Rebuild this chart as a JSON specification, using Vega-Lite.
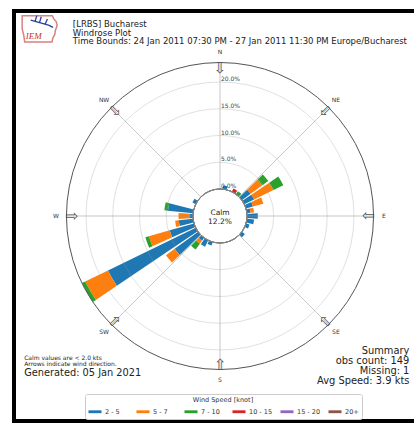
{
  "$schema": "https://vega.github.io/schema/vega-lite/v6.json",
  "width": 412,
  "height": 410,
  "autosize": {"type": "none"},
  "padding": {"left": 14, "top": 11, "right": -12, "bottom": 2},
  "background": "white",
  "config": {
    "view": {"stroke": "#000000", "strokeWidth": 4},
    "font": "DejaVu Sans"
  },
  "datasets": {
    "rose": [
      {"dir": 10, "speed": "2 - 5", "k": 1, "pct": 0.68},
      {"dir": 30, "speed": "10 - 15", "k": 4, "pct": 0.68},
      {"dir": 40, "speed": "7 - 10", "k": 3, "pct": 0.68},
      {"dir": 50, "speed": "2 - 5", "k": 1, "pct": 2.03},
      {"dir": 50, "speed": "5 - 7", "k": 2, "pct": 2.70},
      {"dir": 50, "speed": "7 - 10", "k": 3, "pct": 1.35},
      {"dir": 60, "speed": "2 - 5", "k": 1, "pct": 2.03},
      {"dir": 60, "speed": "5 - 7", "k": 2, "pct": 4.05},
      {"dir": 60, "speed": "7 - 10", "k": 3, "pct": 2.03},
      {"dir": 70, "speed": "2 - 5", "k": 1, "pct": 1.35},
      {"dir": 70, "speed": "5 - 7", "k": 2, "pct": 2.03},
      {"dir": 80, "speed": "2 - 5", "k": 1, "pct": 0.68},
      {"dir": 80, "speed": "5 - 7", "k": 2, "pct": 0.68},
      {"dir": 90, "speed": "2 - 5", "k": 1, "pct": 2.03},
      {"dir": 100, "speed": "2 - 5", "k": 1, "pct": 1.35},
      {"dir": 110, "speed": "2 - 5", "k": 1, "pct": 0.68},
      {"dir": 130, "speed": "2 - 5", "k": 1, "pct": 0.68},
      {"dir": 200, "speed": "2 - 5", "k": 1, "pct": 0.68},
      {"dir": 210, "speed": "2 - 5", "k": 1, "pct": 1.35},
      {"dir": 220, "speed": "2 - 5", "k": 1, "pct": 0.68},
      {"dir": 220, "speed": "5 - 7", "k": 2, "pct": 0.68},
      {"dir": 220, "speed": "7 - 10", "k": 3, "pct": 1.35},
      {"dir": 230, "speed": "2 - 5", "k": 1, "pct": 5.41},
      {"dir": 230, "speed": "5 - 7", "k": 2, "pct": 2.03},
      {"dir": 240, "speed": "2 - 5", "k": 1, "pct": 18.24},
      {"dir": 240, "speed": "5 - 7", "k": 2, "pct": 4.73},
      {"dir": 240, "speed": "7 - 10", "k": 3, "pct": 0.68},
      {"dir": 250, "speed": "2 - 5", "k": 1, "pct": 4.73},
      {"dir": 250, "speed": "5 - 7", "k": 2, "pct": 4.05},
      {"dir": 250, "speed": "7 - 10", "k": 3, "pct": 0.68},
      {"dir": 260, "speed": "2 - 5", "k": 1, "pct": 2.70},
      {"dir": 260, "speed": "5 - 7", "k": 2, "pct": 0.68},
      {"dir": 270, "speed": "2 - 5", "k": 1, "pct": 0.68},
      {"dir": 270, "speed": "5 - 7", "k": 2, "pct": 2.03},
      {"dir": 280, "speed": "2 - 5", "k": 1, "pct": 4.73},
      {"dir": 280, "speed": "7 - 10", "k": 3, "pct": 0.68},
      {"dir": 300, "speed": "2 - 5", "k": 1, "pct": 0.68}
    ],
    "compass": [
      {"dir": 0, "name": "N"}, {"dir": 45, "name": "NE"},
      {"dir": 90, "name": "E"}, {"dir": 135, "name": "SE"},
      {"dir": 180, "name": "S"}, {"dir": 225, "name": "SW"},
      {"dir": 270, "name": "W"}, {"dir": 315, "name": "NW"}
    ],
    "rings": [
      {"r": 0, "label": "0.0%"}, {"r": 5, "label": "5.0%"},
      {"r": 10, "label": "10.0%"}, {"r": 15, "label": "15.0%"},
      {"r": 20, "label": "20.0%"}
    ]
  },
  "layer": [
    {
      "data": {"name": "rose"},
      "transform": [
        {"stack": "pct", "groupby": ["dir"], "sort": [{"field": "k", "order": "ascending"}], "as": ["r0", "r1"]}
      ],
      "mark": {"type": "arc"},
      "encoding": {
        "theta": {
          "field": "dir", "type": "ordinal", "stack": null,
          "scale": {
            "type": "band",
            "domain": [0, 10, 20, 30, 40, 50, 60, 70, 80, 90, 100, 110, 120, 130, 140, 150, 160, 170, 180, 190, 200, 210, 220, 230, 240, 250, 260, 270, 280, 290, 300, 310, 320, 330, 340, 350],
            "range": [-0.0873, 6.1959],
            "paddingInner": 0.18,
            "paddingOuter": 0.09
          }
        },
        "radius": {"field": "r1", "type": "quantitative", "stack": null, "scale": {"type": "linear", "domain": [0, 23.65], "range": [27, 153.5]}},
        "radius2": {"field": "r0"},
        "color": {
          "field": "speed", "type": "nominal",
          "scale": {
            "domain": ["2 - 5", "5 - 7", "7 - 10", "10 - 15", "15 - 20", "20+"],
            "range": ["#1f77b4", "#ff7f0e", "#2ca02c", "#d62728", "#9467bd", "#8c564b"]
          },
          "legend": {
            "orient": "none", "legendX": 71, "legendY": 383,
            "direction": "horizontal", "columns": 6, "gridAlign": "all",
            "title": "Wind Speed [knot]", "titleAnchor": "middle",
            "titleFontSize": 6.5, "titleFontWeight": "normal", "titleColor": "#333333", "titlePadding": 1,
            "labelFontSize": 6.5, "labelColor": "#333333", "labelOffset": 3,
            "symbolType": "M-1,-0.22L1,-0.22L1,0.22L-1,0.22Z", "symbolSize": 170, "symbolStrokeWidth": 0,
            "columnPadding": 7, "padding": 3, "cornerRadius": 2,
            "strokeColor": "#cccccc", "fillColor": "#ffffff"
          }
        }
      }
    },
    {
      "data": {"name": "rings"},
      "mark": {"type": "arc", "theta": 0, "theta2": 6.2832, "fill": null, "stroke": "#999999", "strokeOpacity": 0.38, "strokeWidth": 0.8},
      "encoding": {
        "radius": {"field": "r", "type": "quantitative", "stack": null, "scale": {"type": "linear", "domain": [0, 23.65], "range": [27, 153.5]}}
      }
    },
    {
      "data": {"name": "compass"},
      "mark": {"type": "arc", "fill": null, "stroke": "#999999", "strokeOpacity": 0.38, "strokeWidth": 0.8},
      "encoding": {
        "theta": {"field": "dir", "type": "quantitative", "stack": null, "scale": {"domain": [0, 360], "range": [0, 6.2832]}},
        "theta2": {"field": "dir"},
        "radius": {"datum": 23.65, "type": "quantitative", "stack": null},
        "radius2": {"datum": 0}
      }
    },
    {
      "data": {"values": [{"edge": 23.65}]},
      "mark": {"type": "arc", "theta": 0, "theta2": 6.2832, "fill": null, "stroke": "#555555", "strokeWidth": 1},
      "encoding": {
        "radius": {"field": "edge", "type": "quantitative", "stack": null}
      }
    },
    {
      "data": {"values": [{"edge": 0}]},
      "mark": {"type": "arc", "theta": 0, "theta2": 6.2832, "fill": null, "stroke": "#888888", "strokeWidth": 0.8},
      "encoding": {
        "radius": {"field": "edge", "type": "quantitative", "stack": null}
      }
    },
    {
      "data": {"name": "rings"},
      "mark": {"type": "text", "theta": 0, "align": "left", "baseline": "middle", "dx": 1, "dy": -3, "fontSize": 6, "color": "#444444"},
      "encoding": {
        "radius": {"field": "r", "type": "quantitative", "stack": null},
        "text": {"field": "label"}
      }
    },
    {
      "data": {"name": "compass"},
      "mark": {"type": "text", "align": "center", "baseline": "middle", "fontSize": 15, "color": "#555555", "font": "DejaVu Sans"},
      "encoding": {
        "theta": {"field": "dir", "type": "quantitative", "stack": null, "scale": {"domain": [0, 360], "range": [0, 6.2832]}},
        "radius": {"datum": 22.7, "type": "quantitative", "stack": null},
        "angle": {"field": "dir", "type": "quantitative", "scale": null},
        "text": {"value": "⇩"}
      }
    },
    {
      "data": {"name": "compass"},
      "mark": {"type": "text", "align": "center", "baseline": "middle", "fontSize": 6, "color": "#333333"},
      "encoding": {
        "theta": {"field": "dir", "type": "quantitative", "stack": null, "scale": {"domain": [0, 360], "range": [0, 6.2832]}},
        "radius": {"datum": 25.6, "type": "quantitative", "stack": null},
        "text": {"field": "name"}
      }
    },
    {
      "data": {"values": [{"calm": 12.2}]},
      "mark": {"type": "text", "align": "center", "baseline": "middle", "fontSize": 7.5, "lineHeight": 8.5, "dy": -3, "color": "#222222"},
      "encoding": {"text": {"value": ["Calm", "12.2%"]}}
    },
    {
      "data": {"values": [{"note": "header"}]},
      "mark": {"type": "text", "align": "left", "baseline": "top", "fontSize": 8.5, "lineHeight": 8.5, "color": "#222222"},
      "encoding": {
        "x": {"datum": -27.5, "type": "quantitative", "scale": {"domain": [-38.5, 38.5], "nice": false, "zero": false}, "axis": null},
        "y": {"datum": 36.55, "type": "quantitative", "scale": {"domain": [-38.32, 38.32], "nice": false, "zero": false}, "axis": null},
        "text": {"value": ["[LRBS] Bucharest", "Windrose Plot", "Time Bounds: 24 Jan 2011 07:30 PM - 27 Jan 2011 11:30 PM Europe/Bucharest"]}
      }
    },
    {
      "data": {"values": [{"note": "state outline"}]},
      "mark": {"type": "point", "shape": "M -1 -0.75 L 0.72 -0.75 L 0.8 -0.58 L 0.95 -0.4 L 1 -0.18 L 0.9 0.08 L 0.86 0.34 L 0.76 0.5 L 0.7 0.75 L -0.86 0.75 L -0.9 0.42 L -1 0 Z", "size": 1225, "filled": true, "fill": "#ffffff", "stroke": "#d98080", "strokeWidth": 1.5, "opacity": 1},
      "encoding": {
        "x": {"datum": -33.7, "type": "quantitative"},
        "y": {"datum": 35.0, "type": "quantitative"}
      }
    },
    {
      "data": {"values": [{"note": "barb"}]},
      "mark": {"type": "point", "shape": "M -1 -0.2 L 0.6 0.25 M -0.6 -0.1 L -0.45 -0.6 M -0.2 0 L -0.05 -0.5 M 0.3 0.15 L 0.5 -0.3 M 0.6 0.25 L 1 0.45", "size": 500, "filled": false, "color": "#2a3f9a", "strokeWidth": 1.3, "opacity": 1},
      "encoding": {
        "x": {"datum": -33.3, "type": "quantitative"},
        "y": {"datum": 36.2, "type": "quantitative"}
      }
    },
    {
      "data": {"values": [{"note": "logo text"}]},
      "mark": {"type": "text", "align": "center", "baseline": "middle", "fontSize": 9, "font": "Liberation Serif", "fontStyle": "italic", "color": "#c83232"},
      "encoding": {
        "x": {"datum": -34.8, "type": "quantitative"},
        "y": {"datum": 33.6, "type": "quantitative"},
        "text": {"value": "IEM"}
      }
    },
    {
      "data": {"values": [{"note": "calm"}]},
      "mark": {"type": "text", "align": "left", "baseline": "top", "fontSize": 6, "lineHeight": 6.2, "color": "#222222"},
      "encoding": {
        "x": {"datum": -36.6, "type": "quantitative"},
        "y": {"datum": -26.0, "type": "quantitative"},
        "text": {"value": ["Calm values are < 2.0 kts", "Arrows indicate wind direction."]}
      }
    },
    {
      "data": {"values": [{"note": "generated"}]},
      "mark": {"type": "text", "align": "left", "baseline": "top", "fontSize": 9.8, "color": "#222222"},
      "encoding": {
        "x": {"datum": -36.6, "type": "quantitative"},
        "y": {"datum": -28.5, "type": "quantitative"},
        "text": {"value": "Generated: 05 Jan 2021"}
      }
    },
    {
      "data": {"values": [{"note": "summary"}]},
      "mark": {"type": "text", "align": "right", "baseline": "top", "fontSize": 9.9, "lineHeight": 10, "color": "#222222"},
      "encoding": {
        "x": {"datum": 35.4, "type": "quantitative"},
        "y": {"datum": -24.3, "type": "quantitative"},
        "text": {"value": ["Summary", "obs count: 149", "Missing: 1", "Avg Speed: 3.9 kts"]}
      }
    }
  ],
  "resolve": {"scale": {"theta": "independent"}}
}
